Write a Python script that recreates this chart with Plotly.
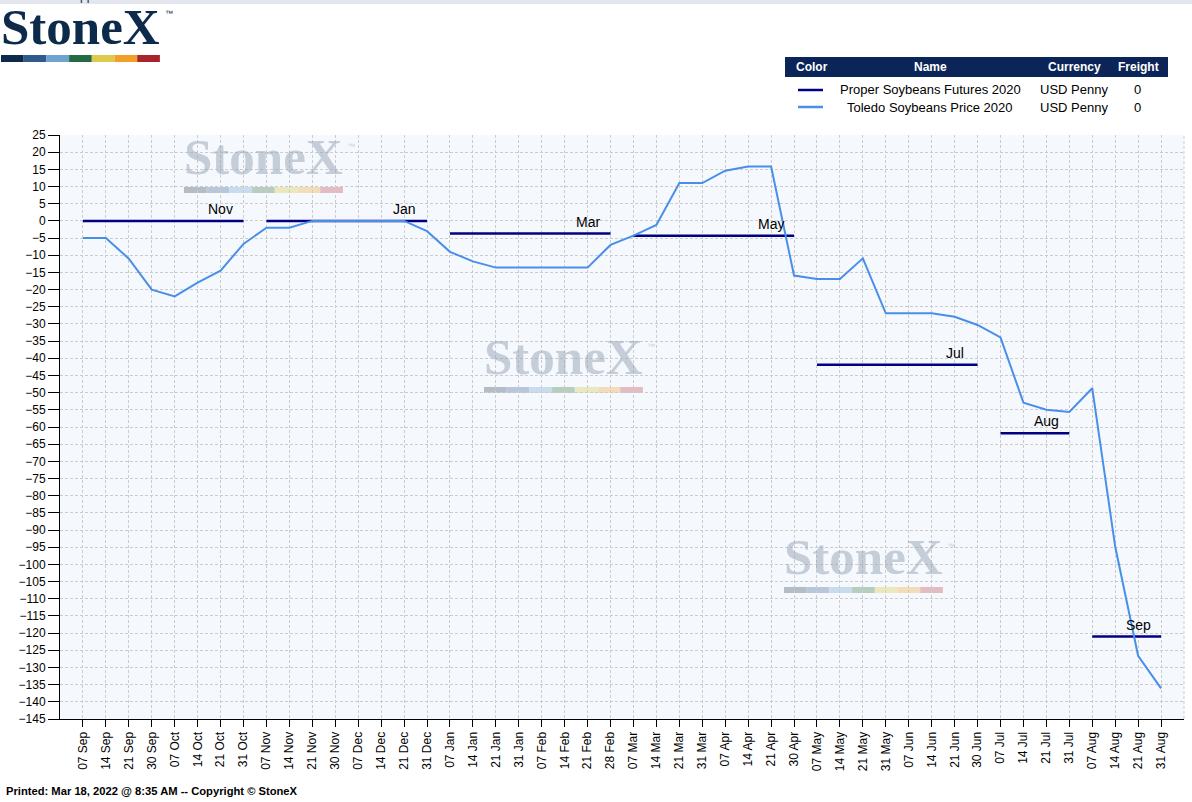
import plotly.graph_objects as go

# x axis categories (weekly dates, Sep 2019 - Aug 2020)
dates = ["07 Sep", "14 Sep", "21 Sep", "30 Sep", "07 Oct", "14 Oct", "21 Oct", "31 Oct",
         "07 Nov", "14 Nov", "21 Nov", "30 Nov", "07 Dec", "14 Dec", "21 Dec", "31 Dec",
         "07 Jan", "14 Jan", "21 Jan", "31 Jan", "07 Feb", "14 Feb", "21 Feb", "28 Feb",
         "07 Mar", "14 Mar", "21 Mar", "31 Mar", "07 Apr", "14 Apr", "21 Apr", "30 Apr",
         "07 May", "14 May", "21 May", "31 May", "07 Jun", "14 Jun", "21 Jun", "30 Jun",
         "07 Jul", "14 Jul", "21 Jul", "31 Jul", "07 Aug", "14 Aug", "21 Aug", "31 Aug"]

# Toledo Soybeans Price 2020 (basis, USD penny)
toledo = [-5, -5, -11, -20, -22, -18, -14.5, -6.7,
          -2, -2, 0, 0, 0, 0, 0, -3,
          -9, -11.8, -13.6, -13.6, -13.6, -13.6, -13.6, -7,
          -4.3, -1.2, 11, 11, 14.6, 15.8, 15.8, -15.9,
          -16.9, -16.9, -10.9, -26.9, -26.9, -26.9, -27.9, -30.3,
          -33.9, -52.9, -55, -55.6, -48.7, -94.8, -126.6, -136.1]

# Proper Soybeans Futures 2020 - one flat segment per contract month
contracts = ["Nov", "Jan", "Mar", "May", "Jul", "Aug", "Sep"]
seg_start = ["07 Sep", "07 Nov", "07 Jan", "07 Mar", "07 May", "07 Jul", "07 Aug"]
seg_end = ["31 Oct", "31 Dec", "28 Feb", "30 Apr", "30 Jun", "31 Jul", "31 Aug"]
seg_label_at = ["21 Oct", "21 Dec", "21 Feb", "21 Apr", "21 Jun", "21 Jul", "21 Aug"]
futures = [0, 0, -3.7, -4.3, -41.9, -61.8, -121]

y_ticks = list(range(25, -150, -5))

# legend table rows
legend_names = ["Proper Soybeans Futures 2020", "Toledo Soybeans Price 2020"]
legend_currency = ["USD Penny", "USD Penny"]
legend_freight = ["0", "0"]

NAVY = "#000080"
LIGHT = "#4a8fe7"
W, H = 1192, 802
L, R, T, B = 60, 1184, 135, 719

idx = {d: i for i, d in enumerate(dates)}


def px(x):
    return (x - L) / (R - L)


def py(y):
    return (B - y) / (B - T)


def note(x, y, text, size=12, color="black", family="Arial", xa="center", ya="middle"):
    return dict(xref="paper", yref="paper", x=px(x), y=py(y), xanchor=xa, yanchor=ya,
                text=text, showarrow=False, font=dict(family=family, size=size, color=color))


fx, fy = [], []
for s, e, v in zip(seg_start, seg_end, futures):
    fx += [idx[s], idx[e], None]
    fy += [v, v, None]

fig = go.Figure()
fig.add_trace(go.Scatter(x=fx, y=fy, mode="lines", name=legend_names[0],
                         line=dict(color=NAVY, width=2.5)))
fig.add_trace(go.Scatter(x=list(range(len(dates))), y=toledo, mode="lines", name=legend_names[1],
                         line=dict(color=LIGHT, width=2)))

annotations = []
shapes = []

for c, d, v in zip(contracts, seg_label_at, futures):
    annotations.append(dict(x=idx[d], y=v, text=c, showarrow=False, yshift=12,
                            xanchor="center", yanchor="middle",
                            font=dict(family="Arial", size=14, color="black")))

GRID = dict(color="#cccccc", width=1, dash="3px,2px")

# right edge grid line
shapes.append(dict(type="line", xref="paper", yref="paper", x0=1, x1=1, y0=0, y1=1,
                   line=GRID, layer="below"))

# top strip
shapes.append(dict(type="rect", xref="paper", yref="paper", x0=px(0), x1=px(W), y0=py(0), y1=py(4),
                   fillcolor="#e3e6ed", line=dict(width=0)))
annotations.append(note(10, 5, "Technical Support", color="#0d2a4a", xa="left", ya="bottom"))

# logo
bar_cols = ["#0d2a4a", "#2e5a8e", "#6fa3cf", "#226b45", "#ddc94a", "#f19f26", "#a8242a"]
wm_cols = ["#b4bcc6", "#b7c6d8", "#c9dcee", "#b6cdc0", "#ece8bd", "#f3dcb8", "#e2bcc0"]
annotations.append(note(-1, 27, "<b>StoneX</b>", size=51, color="#0d2a4a", family="Liberation Serif", xa="left"))
annotations.append(note(163, 14, "™", size=8, color="#0d2a4a", xa="left"))
for i, col in enumerate(bar_cols):
    shapes.append(dict(type="rect", xref="paper", yref="paper",
                       x0=px(1 + i * 22.7), x1=px(1 + (i + 1) * 22.7), y0=py(55), y1=py(62),
                       fillcolor=col, line=dict(width=0)))

# watermarks
WM = "rgba(150,163,178,0.5)"
for ox, oy in [(184, 187), (484, 387), (784, 587)]:
    annotations.append(note(ox - 2, oy - 30, "<b>StoneX</b>", size=51, color=WM,
                            family="Liberation Serif", xa="left"))
    annotations.append(note(ox + 161, oy - 41, "™", size=8, color=WM, xa="left"))
    for i, col in enumerate(wm_cols):
        shapes.append(dict(type="rect", xref="paper", yref="paper",
                           x0=px(ox + i * 22.7), x1=px(ox + (i + 1) * 22.7), y0=py(oy), y1=py(oy + 6),
                           fillcolor=col, line=dict(width=0), layer="below"))

# legend table
shapes.append(dict(type="rect", xref="paper", yref="paper", x0=px(785), x1=px(1168), y0=py(57), y1=py(77),
                   fillcolor="#0b2558", line=dict(width=0)))
for t, cx in zip(["Color", "Name", "Currency", "Freight"], [812, 930, 1074, 1138]):
    annotations.append(note(cx, 67, "<b>%s</b>" % t, color="white"))
for row, (n, cur, fr, col) in enumerate(zip(legend_names, legend_currency, legend_freight, [NAVY, LIGHT])):
    yy = 90 + row * 17
    shapes.append(dict(type="line", xref="paper", yref="paper", x0=px(798), x1=px(823), y0=py(yy), y1=py(yy),
                       line=dict(color=col, width=2.5)))
    for t, cx in zip([n, cur, fr], [930, 1074, 1137]):
        annotations.append(note(cx, yy, t, size=13))

# footer
annotations.append(note(4, 791, "<b>Printed: Mar 18, 2022 @ 8:35 AM -- Copyright © StoneX</b>",
                        size=11.2, xa="left"))

fig.update_layout(
    width=W, height=H,
    margin=dict(l=L, r=W - R, t=T, b=H - B),
    paper_bgcolor="white", plot_bgcolor="#f5f9fe",
    showlegend=False,
    annotations=annotations, shapes=shapes,
    font=dict(family="Arial", size=12, color="black"),
)
fig.update_xaxes(range=[-1, len(dates)], tickmode="array", tickvals=list(range(len(dates))), ticktext=dates,
                 tickangle=-90, ticks="outside", ticklen=7, tickcolor="black",
                 showline=True, linecolor="black", linewidth=1,
                 showgrid=True, gridcolor="#cccccc", griddash="3px,2px", gridwidth=1,
                 zeroline=False, tickfont=dict(family="Arial", size=12))
fig.update_yaxes(range=[-145, 25], tickmode="array", tickvals=y_ticks,
                 ticks="outside", ticklen=11, tickcolor="black",
                 showline=True, linecolor="black", linewidth=1,
                 showgrid=True, gridcolor="#cccccc", griddash="3px,2px", gridwidth=1,
                 zeroline=False, tickfont=dict(family="Arial", size=12))

fig.write_html("out.html", config={"displayModeBar": False},
               post_script="document.body.style.margin='0';")
